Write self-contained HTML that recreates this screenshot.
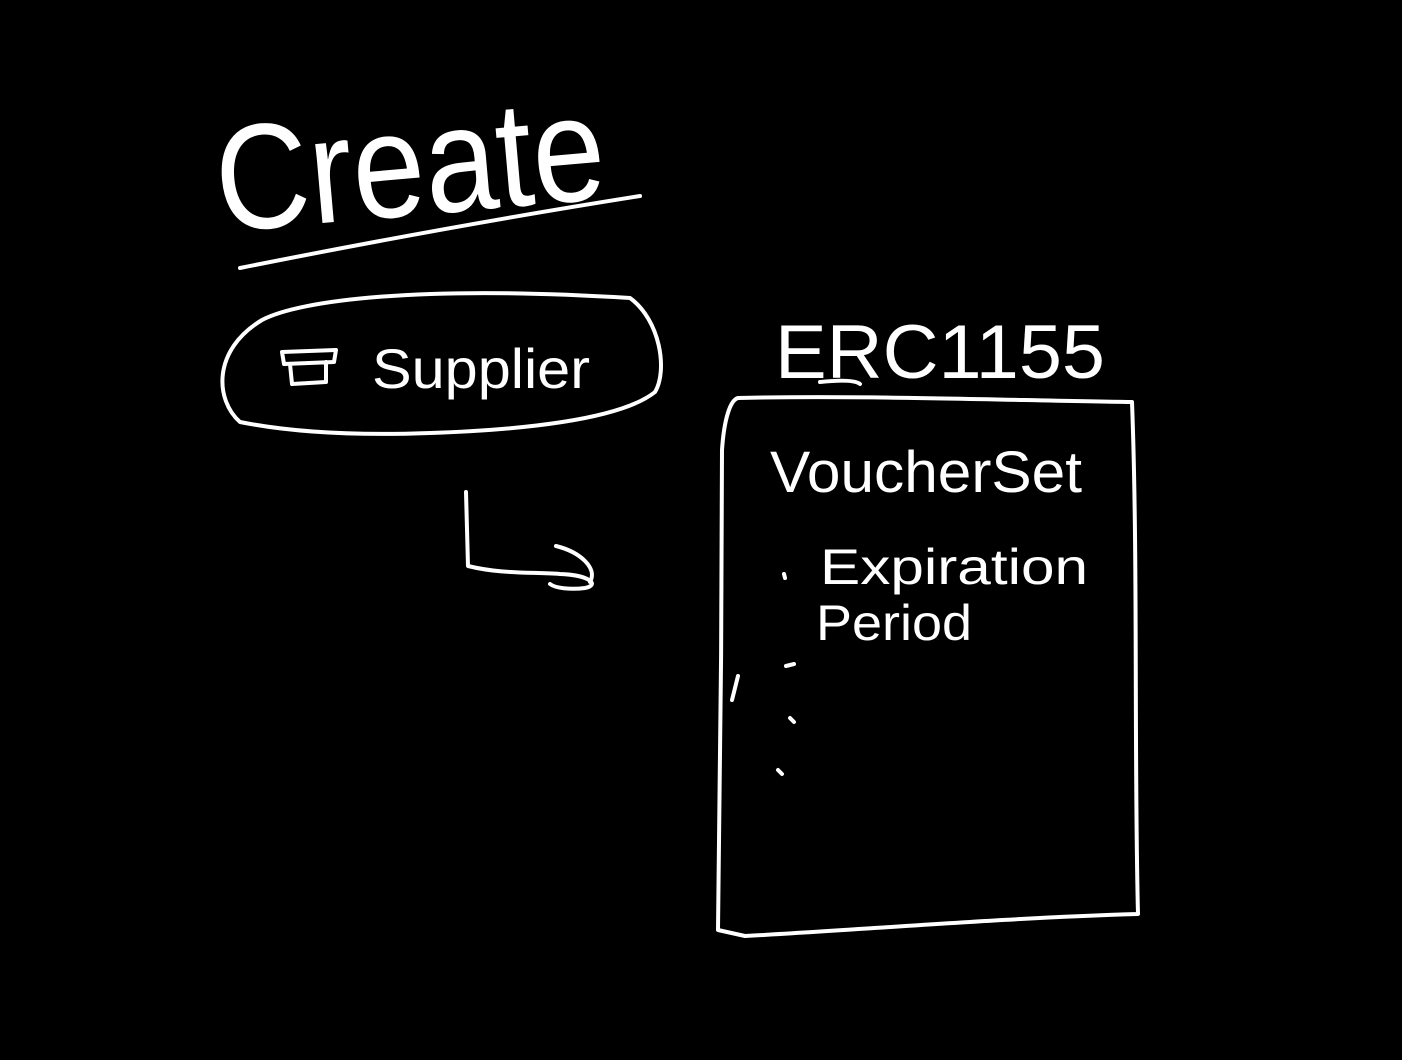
<!DOCTYPE html>
<html><head><meta charset="utf-8"><style>
html,body{margin:0;padding:0;background:#000;}
svg{display:block}
text{fill:#fff;font-family:"Liberation Sans",sans-serif;}
</style></head><body>
<svg width="1402" height="1060" viewBox="0 0 1402 1060" xmlns="http://www.w3.org/2000/svg">
<rect width="1402" height="1060" fill="#000"/>
<g fill="none" stroke="#fff" stroke-width="4" stroke-linecap="round" stroke-linejoin="round">
<path d="M240 268 C 380 240, 520 215, 640 196"/>
<path d="M262 320 C 300 300, 420 285, 630 298 C 660 320, 668 370, 655 392 C 620 420, 520 430, 430 433 C 350 436, 290 432, 240 422 C 215 400, 212 350, 262 320 Z"/>
<path d="M282 352 L336 350 L334 362 L284 364 Z M290 364 L292 384 L326 382 L326 362"/>
<path d="M820 382 C 840 380, 855 380, 860 384"/>
<path d="M738 398 C 850 395, 1000 400, 1132 402 C 1138 560, 1134 760, 1138 914 C 1000 918, 860 930, 745 936 L718 930 C 720 800, 722 600, 722 450 C 724 420, 730 400, 738 398 Z"/>
<path d="M466 492 L468 566 C 500 574, 530 572, 560 574 C 590 575, 600 585, 585 588 C 570 590, 555 588, 550 584 M556 546 C 580 552, 598 568, 590 582"/>
<path d="M784 574 L785 578 M786 666 L794 664 M790 718 L794 722 M778 770 L782 774"/>
<path d="M738 676 L732 700"/>
</g>
<text x="220" y="232" font-size="150" textLength="390" lengthAdjust="spacingAndGlyphs" transform="rotate(-5 220 232)">Create</text>
<text x="372" y="388" font-size="56" textLength="218" lengthAdjust="spacingAndGlyphs">Supplier</text>
<text x="775" y="378" font-size="76" textLength="330" lengthAdjust="spacingAndGlyphs">ERC1155</text>
<text x="770" y="492" font-size="58" textLength="312" lengthAdjust="spacingAndGlyphs">VoucherSet</text>
<text x="820" y="584" font-size="50" textLength="268" lengthAdjust="spacingAndGlyphs">Expiration</text>
<text x="816" y="640" font-size="50" textLength="156" lengthAdjust="spacingAndGlyphs">Period</text>
</svg>
</body></html>
